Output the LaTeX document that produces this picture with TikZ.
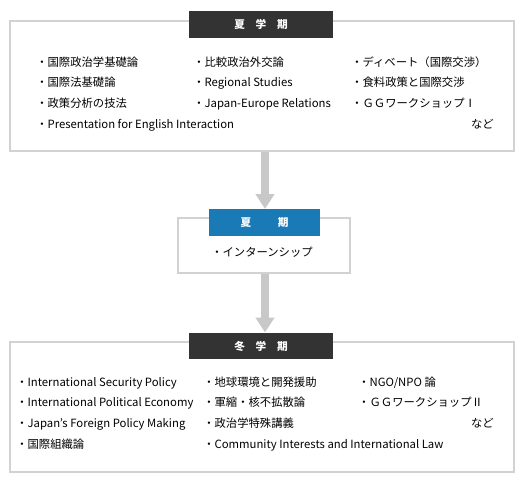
\documentclass[tikz,border=0pt]{standalone}
\usepackage{fontspec}
\setmainfont{Noto Sans CJK JP}
\usetikzlibrary{arrows.meta, positioning}
\definecolor{headdark}{HTML}{333333}
\definecolor{headblue}{HTML}{1A7AB5}
\definecolor{framegray}{HTML}{D2D2D2}
\definecolor{flowgray}{HTML}{C8C8C8}

\tikzset{
  termbox/.style={draw=framegray, line width=1.1pt, fill=white, inner sep=0pt},
  termhead/.style={fill=headdark, text=white, inner sep=0pt, minimum width=108pt, minimum height=20pt, font=\fontsize{8}{9}\selectfont\bfseries},
  course/.style={anchor=base west, inner sep=0pt, font=\fontsize{8.5}{10}\selectfont},
  flow/.style={draw=flowgray, line width=6pt, -{Triangle[width=13.5pt, length=11pt]}}
}

\begin{document}
\begin{tikzpicture}[x=0.75pt, y=-0.75pt]
  \useasboundingbox (0,0) rectangle (530,485);
  % Boxes
  \node[termbox, minimum width=378pt, minimum height=97.5pt] (summer) at (262,86) {};
  \node[termbox, minimum width=129pt, minimum height=41.25pt] (break) at (264,245.5) {};
  \node[termbox, minimum width=378pt, minimum height=97.5pt] (winter) at (262,407) {};
  % Headers
  \node[termhead] (summerhead) at (261,24.5) {夏\hspace{1em}学\hspace{1em}期};
  \node[termhead, fill=headblue, minimum width=83pt] (breakhead) at (264.5,222.5) {夏\hspace{2.5em}期};
  \node[termhead] (winterhead) at (261,346) {冬\hspace{1em}学\hspace{1em}期};
  % Arrows
  \draw[flow] (summer.south -| 265,0) -- (breakhead.north -| 265,0);
  \draw[flow] (break.south -| 265,0) -- (winterhead.north -| 265,0);
  % Summer courses
  \node[course] (s11) at (36,66) {・国際政治学基礎論};
  \node[course] (s12) at (36,86) {・国際法基礎論};
  \node[course] (s13) at (36,107) {・政策分析の技法};
  \node[course] (s14) at (36,128) {・Presentation for English Interaction};
  \node[course] (s21) at (193,66) {・比較政治外交論};
  \node[course] (s22) at (193,86) {・Regional Studies};
  \node[course] (s23) at (193,107) {・Japan-Europe Relations};
  \node[course] (s31) at (351,66) {・ディベート（国際交渉）};
  \node[course] (s32) at (351,86) {・食料政策と国際交渉};
  \node[course] (s33) at (351,107) {・ＧＧワークショップⅠ};
  \node[course, anchor=base east] (setc) at (494,128) {など};
  % Break course
  \node[course] (b11) at (211,256) {・インターンシップ};
  % Winter courses
  \node[course] (w11) at (16,386) {・International Security Policy};
  \node[course] (w12) at (16,406) {・International Political Economy};
  \node[course] (w13) at (16,427) {・Japan’s Foreign Policy Making};
  \node[course] (w14) at (16,448) {・国際組織論};
  \node[course] (w21) at (203,386) {・地球環境と開発援助};
  \node[course] (w22) at (203,406) {・軍縮・核不拡散論};
  \node[course] (w23) at (203,427) {・政治学特殊講義};
  \node[course] (w24) at (203,448) {・Community Interests and International Law};
  \node[course] (w31) at (358,386) {・NGO/NPO 論};
  \node[course] (w32) at (358,406) {・ＧＧワークショップⅡ};
  \node[course, anchor=base east] (wetc) at (494,427) {など};
\end{tikzpicture}
\end{document}
